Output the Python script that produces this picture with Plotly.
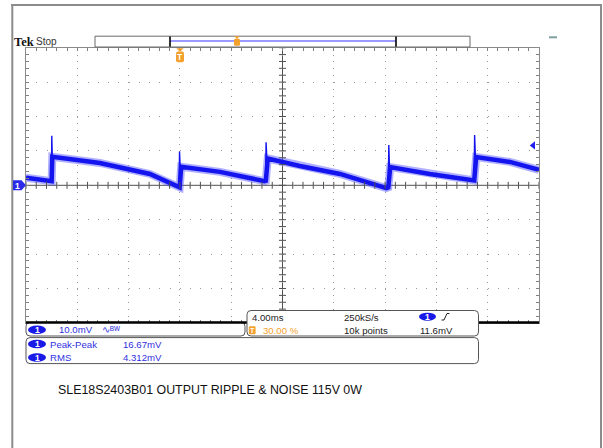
import plotly.graph_objects as go

W, H = 603, 448

# ---------------- data ----------------
time_ms = [-12.0, -10.15, -10.0, -9.95, -6.24, -2.34, -0.15, -0.02, 0.1, 3.12, 6.6, 6.7,
           6.85, 9.36, 12.48, 16.1, 16.25, 16.4, 19.49, 22.8, 22.95, 23.1, 25.73, 28.0]
ripple_mv = [2.2, 1.0, 1.2, 8.3, 6.5, 3.3, -0.4, -0.6, 5.4, 3.9, 1.2, 1.3,
             7.8, 5.6, 3.3, -0.8, -0.6, 5.3, 3.3, 1.2, 1.4, 8.2, 6.8, 4.5]
spike_time_ms = [-10.02, -9.99, -9.95, None, -0.06, -0.03, 0.02, None, 6.68, 6.72, 6.78, None,
                 16.24, 16.29, 16.34, None, 22.94, 22.98, 23.04]
spike_mv = [1.3, 14.4, 8.4, None, -0.5, 9.8, 5.5, None, 1.3, 12.5, 7.8, None,
            -0.6, 11.7, 5.4, None, 1.4, 14.6, 8.2]
trigger_level_mv = 11.6

ch1_scale = "10.0mV"
measure_names = ["Peak-Peak", "RMS"]
measure_values = ["16.67mV", "4.312mV"]
timebase = "4.00ms"
sample_rate = "250kS/s"
record_length = "10k points"
trigger_position = "30.00 %"
trigger_readout = "11.6mV"
title_text = "SLE18S2403B01 OUTPUT RIPPLE & NOISE 115V 0W"

# ---------------- geometry / style ----------------
T_RANGE = [-12, 28]
V_RANGE = [-40, 40]
GX0, GX1 = 26, 539
GY0, GY1 = 47.7, 322.9
BLUE = "#1414ee"
TXT_BLUE = "#2f2fe0"
ORANGE = "#f2a12c"
FONT = "Liberation Sans"


def px(x):
    return x / W


def py(y):
    return 1 - y / H


def rrect(x0, y0, x1, y1, r):
    return (f"M {px(x0 + r)},{py(y0)} L {px(x1 - r)},{py(y0)} Q {px(x1)},{py(y0)} {px(x1)},{py(y0 + r)} "
            f"L {px(x1)},{py(y1 - r)} Q {px(x1)},{py(y1)} {px(x1 - r)},{py(y1)} "
            f"L {px(x0 + r)},{py(y1)} Q {px(x0)},{py(y1)} {px(x0)},{py(y1 - r)} "
            f"L {px(x0)},{py(y0 + r)} Q {px(x0)},{py(y0)} {px(x0 + r)},{py(y0)} Z")


def poly(points):
    return "M " + " L ".join(f"{px(a)},{py(b)}" for a, b in points) + " Z"


shapes = []
annotations = []


def add_path(path, fill=None, color=None, width=1, layer="above"):
    shapes.append(dict(type="path", xref="paper", yref="paper", path=path,
                       fillcolor=fill if fill else "rgba(0,0,0,0)",
                       line=dict(color=color if color else "rgba(0,0,0,0)", width=width),
                       layer=layer))


def add_line(x0, y0, x1, y1, color, width, layer="above", dash="solid"):
    shapes.append(dict(type="line", xref="paper", yref="paper", x0=px(x0), y0=py(y0),
                       x1=px(x1), y1=py(y1), line=dict(color=color, width=width, dash=dash),
                       layer=layer))


def add_text(x, y, text, size=9.6, color="#222", family=FONT, anchor="left"):
    annotations.append(dict(xref="paper", yref="paper", x=px(x), y=py(y), text=text,
                            showarrow=False, xanchor=anchor, yanchor="middle",
                            borderpad=0, font=dict(family=family, size=size, color=color)))


def badge(x0, y0, x1, y1):
    shapes.append(dict(type="circle", xref="paper", yref="paper", x0=px(x0), y0=py(y0),
                       x1=px(x1), y1=py(y1), fillcolor="#1a1ae6", line=dict(width=0),
                       layer="above"))
    add_text((x0 + x1) / 2, (y0 + y1) / 2 + 0.3, "<b>1</b>", size=8.5, color="white",
             anchor="center")


fig = go.Figure()

# waveform: noise band + core + thin spikes
fig.add_trace(go.Scatter(x=time_ms, y=ripple_mv, mode="lines", hoverinfo="skip",
                         line=dict(color="rgba(80,80,255,0.45)", width=8)))
fig.add_trace(go.Scatter(x=time_ms, y=ripple_mv, mode="lines", hoverinfo="skip",
                         line=dict(color=BLUE, width=4.5)))
fig.add_trace(go.Scatter(x=spike_time_ms, y=spike_mv, mode="lines", hoverinfo="skip",
                         connectgaps=False, line=dict(color=BLUE, width=1.4)))

# centre cross-hair minor ticks
h_ticks = [T_RANGE[0] + 0.8 * k for k in range(51)]
v_ticks = [V_RANGE[0] + 2 * k for k in range(41)]
fig.add_trace(go.Scatter(x=h_ticks, y=[0] * len(h_ticks), mode="markers", hoverinfo="skip",
                         marker=dict(symbol="line-ns", size=5, line=dict(color="#505050", width=1))))
fig.add_trace(go.Scatter(x=[8] * len(v_ticks), y=v_ticks, mode="markers", hoverinfo="skip",
                         marker=dict(symbol="line-ew", size=5, line=dict(color="#505050", width=1))))
# trigger level marker
fig.add_trace(go.Scatter(x=[27.55], y=[trigger_level_mv], mode="markers", hoverinfo="skip",
                         cliponaxis=False,
                         marker=dict(symbol="triangle-left", size=7, color="#2020f0")))

# centre cross-hair lines (data referenced)
shapes.append(dict(type="line", xref="x", yref="paper", x0=8, x1=8, y0=py(GY1), y1=py(GY0),
                   line=dict(color="#505050", width=1), layer="below"))
shapes.append(dict(type="line", xref="paper", yref="y", x0=px(GX0), x1=px(GX1), y0=0, y1=0,
                   line=dict(color="#505050", width=1), layer="below"))

# outer frame
add_line(11, 5, 602, 5, "#8c8c8c", 2)
add_line(12.3, 4, 12.3, 448, "#8c8c8c", 2)
add_line(601, 4, 601, 448, "#8c8c8c", 2)

# record bar at top
add_path(rrect(95, 36.2, 470, 47, 0.01), fill="white", color="#6a6a6a", width=1)
add_line(170, 41, 396, 41, "#9a9aff", 2)
add_line(170, 36.5, 170, 46.8, "black", 1.6)
add_line(396, 36.5, 396, 46.8, "black", 1.6)
add_path(poly([(234.3, 36.3), (239.7, 36.3), (237, 39)]), fill=ORANGE)
add_path(rrect(234, 38.8, 240, 45.8, 1.5), fill=ORANGE)
add_line(549, 37.3, 557, 37.3, "#7fa0a0", 2)

# trigger position marker under the bar
add_path(poly([(176.3, 48.2), (183.7, 48.2), (180, 51.8)]), fill=ORANGE)
add_path(rrect(176, 51.6, 184, 62.3, 2), fill=ORANGE)
add_text(180, 57.2, "<b>T</b>", size=8.5, color="white", anchor="center")

# channel ground marker on the left
add_path(poly([(13, 180.3), (21.5, 180.3), (26, 185.3), (21.5, 190.3), (13, 190.3)]), fill="#2a2ae8")
add_text(17.5, 185.6, "<b>1</b>", size=8.5, color="white", anchor="center")

# header text
add_text(12.5, 41.6, "<b>Tek</b>", size=12.5, color="#111", family="Liberation Serif")
add_text(34.5, 41.6, "Stop", size=10, color="#333")

# bottom info boxes
add_path(rrect(26, 322.3, 245, 336, 4), fill="white", color="#555", width=1)
add_line(GX0, 322.6, GX1, 322.6, "black", 2.5)
add_path(rrect(247, 310.5, 478.5, 336, 4), fill="white", color="#555", width=1)
add_path(rrect(26, 337.6, 478.5, 363.6, 4), fill="white", color="#555", width=1)

badge(28, 325.5, 46, 334)
add_text(58, 329.6, ch1_scale, color=TXT_BLUE)
add_text(101, 329.6, "∿ᴮᵂ", size=9.5, color=TXT_BLUE)

badge(28, 339.8, 46, 348.3)
badge(28, 353.3, 46, 361.8)
for i, (n, v) in enumerate(zip(measure_names, measure_values)):
    yy = 344.2 + 13.5 * i
    add_text(49.3, yy, n, color=TXT_BLUE)
    add_text(121.7, yy, v, color=TXT_BLUE)

add_text(250.5, 317.2, timebase, color="#222")
add_text(342.7, 317.2, sample_rate, color="#222")
badge(419, 312.7, 436, 320.7)
shapes.append(dict(type="path", xref="paper", yref="paper",
                   path=f"M {px(441.5)},{py(320)} L {px(444)},{py(320)} L {px(447)},{py(313.5)} L {px(449.5)},{py(313.5)}",
                   line=dict(color="#222", width=1), layer="above"))
add_path(rrect(248.8, 326.2, 255.6, 334.2, 1.2), fill=ORANGE)
add_text(252.2, 330.4, "<b>T</b>", size=7, color="white", anchor="center")
add_text(261.5, 330.3, trigger_position, color=ORANGE)
add_text(342.7, 330.3, record_length, color="#222")
add_text(419, 330.3, trigger_readout, color="#222")

# caption
add_text(57, 390, title_text, size=12.4, color="#111")

fig.update_layout(
    width=W, height=H, margin=dict(l=0, r=0, t=0, b=0),
    paper_bgcolor="white", plot_bgcolor="white", showlegend=False,
    shapes=shapes, annotations=annotations,
    xaxis=dict(domain=[px(GX0), px(GX1)], range=T_RANGE, showticklabels=False,
               showgrid=True, gridcolor="#9a9a9a", gridwidth=1, griddash="1px,5.88px",
               tick0=T_RANGE[0], dtick=4, ticks="inside", ticklen=3, tickcolor="#808080",
               showline=True, linecolor="#8a8a8a", linewidth=1, mirror="ticks", zeroline=False,
               minor=dict(tick0=T_RANGE[0], dtick=0.8, ticks="inside", ticklen=3,
                          tickcolor="#808080", showgrid=False),
               fixedrange=True),
    yaxis=dict(domain=[py(GY1), py(GY0)], range=V_RANGE, showticklabels=False,
               showgrid=True, gridcolor="#9a9a9a", gridwidth=1, griddash="1px,9.26px",
               tick0=V_RANGE[0], dtick=10, ticks="inside", ticklen=3, tickcolor="#808080",
               showline=True, linecolor="#8a8a8a", linewidth=1, mirror="ticks", zeroline=False,
               minor=dict(tick0=V_RANGE[0], dtick=2, ticks="inside", ticklen=3,
                          tickcolor="#808080", showgrid=False),
               fixedrange=True),
)

fig.write_html("out.html", config={"displayModeBar": False},
               post_script="document.body.style.margin='0px';document.body.style.overflow='hidden';")
